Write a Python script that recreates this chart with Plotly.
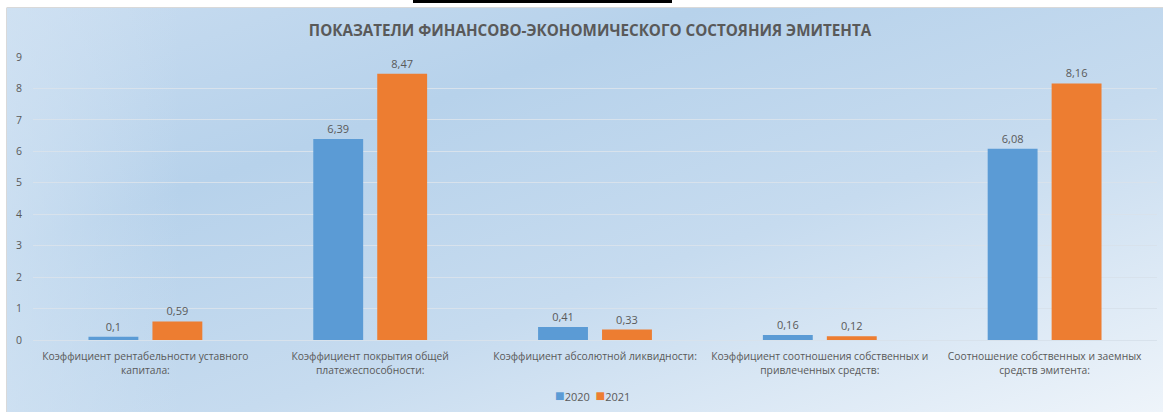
import plotly.graph_objects as go
import urllib.parse

categories = [
    "Коэффициент рентабельности уставного<br>капитала:",
    "Коэффициент покрытия общей<br>платежеспособности:",
    "Коэффициент абсолютной ликвидности:",
    "Коэффициент соотношения собственных и<br>привлеченных средств:",
    "Соотношение собственных и заемных<br>средств эмитента:",
]
series_names = ["2020", "2021"]
values_2020 = [0.1, 6.39, 0.41, 0.16, 6.08]
values_2021 = [0.59, 8.47, 0.33, 0.12, 8.16]
y_ticks = [0, 1, 2, 3, 4, 5, 6, 7, 8, 9]
title_text = "ПОКАЗАТЕЛИ ФИНАНСОВО-ЭКОНОМИЧЕСКОГО СОСТОЯНИЯ ЭМИТЕНТА"

colors = ["#5B9BD5", "#ED7D31"]
W, H = 1163, 412
L, R, T, B = 33, 1157, 57, 340  # plot area pixels
pw, ph = R - L, B - T

def px_x(p):
    return (p - L) / pw

def px_y(p):
    return (B - p) / ph

def fmt(v):
    return f"{v:g}".replace(".", ",")

fig = go.Figure()
for name, vals, col in zip(series_names, [values_2020, values_2021], colors):
    fig.add_trace(go.Bar(
        name=name, x=categories, y=vals,
        marker=dict(color=col, line=dict(width=0)),
        text=[fmt(v) for v in vals], textposition="outside",
        textfont=dict(color="#595959", size=11, family="Open Sans"),
        cliponaxis=False, showlegend=False,
    ))

svg = (
    "<svg xmlns='http://www.w3.org/2000/svg' width='1156' height='404' preserveAspectRatio='none'>"
    "<defs><linearGradient id='g' x1='0' y1='0' x2='1' y2='1'>"
    "<stop offset='0' stop-color='#C8DCF0'/>"
    "<stop offset='0.3' stop-color='#B7D2EB'/>"
    "<stop offset='0.6' stop-color='#C6DBEF'/>"
    "<stop offset='1' stop-color='#EEF4FA'/>"
    "</linearGradient>"
    "<linearGradient id='h' x1='0' y1='0' x2='1' y2='0'>"
    "<stop offset='0' stop-color='#D2E3F3' stop-opacity='0.7'/>"
    "<stop offset='0.15' stop-color='#D2E3F3' stop-opacity='0'/>"
    "</linearGradient></defs>"
    "<rect width='1156' height='404' fill='url(#g)'/>"
    "<rect width='1156' height='404' fill='url(#h)'/>"
    "</svg>"
)
src = "data:image/svg+xml;charset=utf-8," + urllib.parse.quote(svg)

legend_text = "  ".join(
    f"<span style='color:{c}; font-size:16px'>■</span>{n}" for n, c in zip(series_names, colors)
)

fig.update_layout(
    width=W, height=H,
    margin=dict(l=L, r=W - R, t=T, b=H - B, pad=0, autoexpand=False),
    paper_bgcolor="white", plot_bgcolor="rgba(0,0,0,0)",
    barmode="group", bargap=0.431, bargroupgap=0.22,
    font=dict(family="Open Sans", color="#595959", size=10),
    title=dict(text="<b>" + title_text + "</b>", x=590 / W, xanchor="center",
               y=1 - 31 / H, yanchor="middle", automargin=False,
               font=dict(size=15.2, color="#595959", family="Open Sans")),
    showlegend=False,
    annotations=[dict(text=legend_text, xref="paper", yref="paper", x=px_x(592), y=px_y(395),
                      xanchor="center", yanchor="middle", showarrow=False,
                      font=dict(size=11, color="#595959"))],
    images=[dict(source=src, xref="paper", yref="paper", x=px_x(7), y=px_y(8),
                 sizex=(W - 7) / pw, sizey=(H - 8) / ph, xanchor="left", yanchor="top",
                 sizing="stretch", layer="below")],
    shapes=[
        dict(type="line", xref="paper", yref="paper", x0=px_x(413), x1=px_x(672),
             y0=px_y(1.5), y1=px_y(1.5), line=dict(color="black", width=3)),
        dict(type="line", xref="paper", yref="paper", x0=px_x(7), x1=px_x(W),
             y0=px_y(7.5), y1=px_y(7.5), line=dict(color="#D9D9D9", width=1)),
        dict(type="line", xref="paper", yref="paper", x0=px_x(6.5), x1=px_x(6.5),
             y0=px_y(7.5), y1=px_y(H), line=dict(color="#D9D9D9", width=1)),
    ],
)
fig.update_yaxes(range=[0, 9], tickvals=y_ticks, showgrid=True, gridcolor="#D8E2EC",
                 gridwidth=1, zeroline=False, showline=False, automargin=False,
                 tickfont=dict(size=10.5, color="#595959"), ticklabelstandoff=10)
fig.update_xaxes(showgrid=False, showline=True, linecolor="#D8E2EC", linewidth=1,
                 automargin=False, tickangle=0,
                 tickfont=dict(size=10.3, color="#595959"), ticklabelstandoff=7)

fig.write_html("out.html", config={"displayModeBar": False},
               post_script="document.body.style.margin='0';document.body.style.overflow='hidden';")
